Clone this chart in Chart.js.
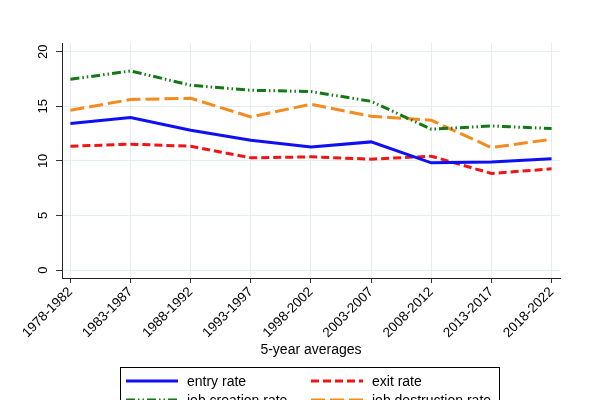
<!DOCTYPE html>
<html><head><meta charset="utf-8">
<script src="https://cdn.jsdelivr.net/npm/chart.js@4/dist/chart.umd.min.js"></script>
<style>html,body{margin:0;padding:0;background:#fff}#wrap{width:600px;height:400px}</style>
</head><body><div id="wrap"><canvas id="c" width="600" height="400"></canvas></div>
<script>
const categories = ["1978-1982","1983-1987","1988-1992","1993-1997","1998-2002","2003-2007","2008-2012","2013-2017","2018-2022"];
const entryRate = [13.42,13.97,12.8,11.9,11.28,11.74,9.82,9.9,10.2];
const exitRate = [11.34,11.53,11.34,10.28,10.37,10.16,10.43,8.85,9.27];
const jobCreationRate = [17.47,18.24,16.93,16.47,16.35,15.46,12.9,13.2,12.96];
const jobDestructionRate = [14.64,15.62,15.74,14.03,15.19,14.09,13.72,11.22,11.98];
const yTicks = [0,5,10,15,20];
const xTitle = "5-year averages";
const seriesNames = ["entry rate","exit rate","job creation rate","job destruction rate"];

const FONT = "'Liberation Sans', Arial, sans-serif";
const toPts = arr => arr.map((v,i)=>({x:i,y:v}));
const styles = [
  {color:'#0f0ff5', dash:[]},
  {color:'#f01414', dash:[8,4]},
  {color:'#147814', dash:[9,3,1.5,3,1.5,3]},
  {color:'#f58a1f', dash:[14,5]}
];
const seriesData = [entryRate, exitRate, jobCreationRate, jobDestructionRate];

const overlay = {
  id:'overlay',
  afterDraw(chart){
    const ctx = chart.ctx, ca = chart.chartArea, ys = chart.scales.y;
    ctx.save();
    ctx.fillStyle = '#000';
    ctx.font = '13px ' + FONT;
    ctx.textAlign = 'center'; ctx.textBaseline = 'middle';
    yTicks.forEach(t=>{
      const py = ys.getPixelForValue(t);
      ctx.save(); ctx.translate(43, py); ctx.rotate(-Math.PI/2);
      ctx.fillText(String(t), 0, 0); ctx.restore();
    });
    ctx.font = '14px ' + FONT;
    ctx.textAlign='center'; ctx.textBaseline='alphabetic';
    ctx.fillText(xTitle, (ca.left+ca.right)/2, 354);
    const bx=120.5, by=367.5, bw=379, bh=60;
    ctx.fillStyle='#fff'; ctx.fillRect(bx,by,bw,bh);
    ctx.strokeStyle='#000'; ctx.lineWidth=1; ctx.strokeRect(bx,by,bw,bh);
    const cols=[126, 311], rows=[381, 400];
    chart.data.datasets.forEach((ds,i)=>{
      const cx = cols[i%2], cy = rows[Math.floor(i/2)];
      ctx.strokeStyle = ds.borderColor; ctx.lineWidth = 3;
      ctx.setLineDash(ds.borderDash||[]);
      ctx.beginPath(); ctx.moveTo(cx, cy); ctx.lineTo(cx+52, cy); ctx.stroke();
      ctx.setLineDash([]);
      ctx.fillStyle='#000'; ctx.font='14px '+FONT;
      ctx.textAlign='left'; ctx.textBaseline='middle';
      ctx.fillText(ds.label, cx+61, cy+1);
    });
    ctx.restore();
  }
};

new Chart(document.getElementById('c'), {
  type:'line',
  data:{
    datasets: seriesData.map((d,i)=>({
      label: seriesNames[i],
      data: toPts(d),
      borderColor: styles[i].color,
      borderDash: styles[i].dash,
      borderWidth: 3,
      pointRadius: 0,
      tension: 0,
      fill:false
    }))
  },
  options:{
    responsive:false, animation:false,
    layout:{padding:{left:0,right:40,top:43,bottom:0}},
    plugins:{legend:{display:false}, tooltip:{enabled:false}},
    scales:{
      x:{
        type:'linear', min:-0.14, max:8.14,
        afterBuildTicks(s){ s.ticks = categories.map((c,i)=>({value:i})); },
        afterFit(s){ s.height = 122; },
        ticks:{
          callback:(v)=>categories[v],
          minRotation:45, maxRotation:45,
          color:'#000', font:{family:FONT, size:13.5}, padding:1
        },
        grid:{color:'#e4edf1', lineWidth:1, tickLength:5, tickColor:'#333'},
        border:{color:'#222', width:1}
      },
      y:{
        type:'linear', min:-0.73, max:20.8,
        afterBuildTicks(s){ s.ticks = yTicks.map(v=>({value:v})); },
        afterFit(s){ s.width = 62; },
        ticks:{color:'rgba(0,0,0,0)', font:{family:FONT,size:13}},
        grid:{color:'#e4edf1', lineWidth:1, tickLength:6, tickColor:'#333'},
        border:{color:'#222', width:1}
      }
    }
  },
  plugins:[overlay]
});
</script></body></html>
